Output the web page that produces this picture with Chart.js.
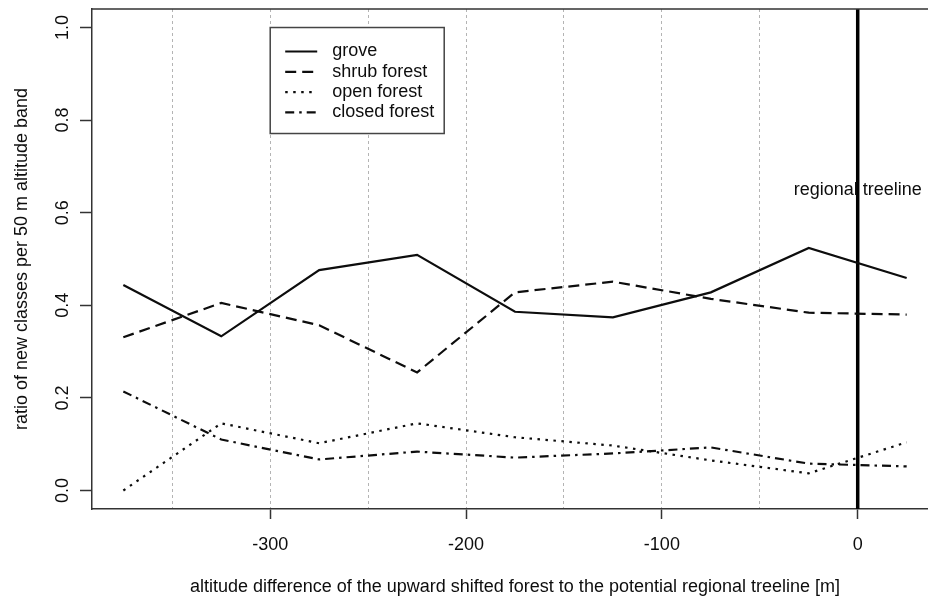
<!DOCTYPE html>
<html><head><meta charset="utf-8">
<script src="https://cdn.jsdelivr.net/npm/chart.js@4/dist/chart.umd.min.js"></script>
<style>html,body{margin:0;padding:0;background:#fff;overflow:hidden;width:928px;height:598px}#wrap{width:940px;height:598px}</style>
</head><body><div id="wrap"><canvas id="c" width="940" height="598"></canvas></div>
<script>
// ---- data ----
const altitudes    = [-375, -325, -275, -225, -175, -125, -75, -25, 25];
const grove        = [0.444, 0.333, 0.476, 0.509, 0.386, 0.374, 0.428, 0.524, 0.459];
const shrubForest  = [0.331, 0.405, 0.357, 0.255, 0.428, 0.451, 0.414, 0.384, 0.380];
const openForest   = [0.000, 0.145, 0.102, 0.145, 0.115, 0.097, 0.065, 0.037, 0.104];
const closedForest = [0.214, 0.110, 0.067, 0.084, 0.071, 0.080, 0.093, 0.058, 0.052];
const seriesNames  = ['grove', 'shrub forest', 'open forest', 'closed forest'];
const xTickLabels  = [-300, -200, -100, 0];
const yTickLabels  = ['0.0', '0.2', '0.4', '0.6', '0.8', '1.0'];
const treelineX    = 0;
const treelineLabel = 'regional treeline';
const xTitle = 'altitude difference of the upward shifted forest to the potential regional treeline [m]';
const yTitle = 'ratio of new classes per 50 m altitude band';

const FONT = '"Liberation Sans", Arial, Helvetica, sans-serif';
const INK = '#0d0d0d';
const AXIS = '#333';

const toPts = arr => altitudes.map((x, i) => ({x: x, y: arr[i]}));
const styles = [
  {dash: []},
  {dash: [11, 6]},
  {dash: [2.5, 5.5]},
  {dash: [9, 5, 2.5, 5]}
];
const seriesData = [grove, shrubForest, openForest, closedForest];

const datasets = seriesData.map((arr, i) => ({
  label: seriesNames[i],
  data: toPts(arr),
  borderColor: INK,
  borderWidth: 2.2,
  borderDash: styles[i].dash,
  pointRadius: 0,
  tension: 0,
  fill: false
}));
datasets.push({
  label: '_treeline',
  data: [{x: treelineX, y: -0.04}, {x: treelineX, y: 1.04}],
  borderColor: '#000',
  borderWidth: 3.5,
  pointRadius: 0,
  fill: false
});

const framePlugin = {
  id: 'frame',
  afterDraw(chart) {
    const {ctx, chartArea: a, scales: {x, y}} = chart;
    ctx.save();
    // top and right frame lines
    ctx.strokeStyle = AXIS; ctx.lineWidth = 1.5; ctx.setLineDash([]);
    ctx.beginPath(); ctx.moveTo(a.left - 0.75, a.top); ctx.lineTo(a.right, a.top); ctx.lineTo(a.right, a.bottom); ctx.stroke();
    // treeline label
    ctx.fillStyle = INK;
    ctx.font = '18px ' + FONT;
    ctx.textAlign = 'center'; ctx.textBaseline = 'middle';
    ctx.fillText(treelineLabel, x.getPixelForValue(treelineX), y.getPixelForValue(0.65));
    // legend
    const lx = x.getPixelForValue(-300), ty = y.getPixelForValue(1.0);
    const bw = 174, bh = 106;
    ctx.fillStyle = '#fff';
    ctx.fillRect(lx, ty, bw, bh);
    ctx.strokeStyle = '#444'; ctx.lineWidth = 1.5;
    ctx.strokeRect(lx, ty, bw, bh);
    ctx.textAlign = 'left';
    chart.data.datasets.slice(0, 4).forEach((ds, i) => {
      const ry = ty + 24 + i * 20.3;
      ctx.strokeStyle = INK; ctx.lineWidth = 2.2; ctx.setLineDash(ds.borderDash || []);
      ctx.beginPath(); ctx.moveTo(lx + 15, ry); ctx.lineTo(lx + 47, ry); ctx.stroke();
      ctx.setLineDash([]);
      ctx.fillStyle = INK;
      ctx.fillText(ds.label, lx + 62, ry);
    });
    ctx.restore();
  }
};

new Chart(document.getElementById('c'), {
  type: 'line',
  data: {datasets: datasets},
  plugins: [framePlugin],
  options: {
    responsive: false,
    animation: false,
    devicePixelRatio: 1,
    layout: {padding: {top: 9, right: 2, left: 0, bottom: 0}},
    plugins: {legend: {display: false}, tooltip: {enabled: false}},
    scales: {
      x: {
        type: 'linear',
        min: -391, max: 41,
        afterFit(s) { s.height = 89; s.paddingLeft = 0; s.paddingRight = 0; },
        ticks: {
          stepSize: 50, includeBounds: false, autoSkip: false, maxRotation: 0,
          padding: 15, color: INK, font: {size: 18, family: FONT},
          callback: v => xTickLabels.includes(v) ? String(v) : ''
        },
        grid: {
          color: c => (c.tick && c.tick.value === treelineX) ? 'rgba(0,0,0,0)' : '#b4b4b4',
          lineWidth: 1,
          tickLength: 10,
          tickWidth: 1.5,
          tickColor: c => (c.tick && xTickLabels.includes(c.tick.value)) ? AXIS : 'rgba(0,0,0,0)'
        },
        border: {display: true, color: AXIS, width: 1.5, dash: c => c.type === 'tick' ? [3, 3] : []},
        title: {display: true, text: xTitle, color: INK, font: {size: 18, family: FONT}, padding: {top: 0, bottom: 0}}
      },
      y: {
        type: 'linear',
        min: -0.04, max: 1.04,
        afterFit(s) { s.width = 92; s.paddingTop = 0; s.paddingBottom = 0; },
        ticks: {
          stepSize: 0.2, includeBounds: false, minRotation: 90, maxRotation: 90,
          crossAlign: 'center', padding: 4, color: INK, font: {size: 18, family: FONT},
          callback: v => { const s = v.toFixed(1); return yTickLabels.includes(s) ? s : ''; }
        },
        grid: {drawOnChartArea: false, tickLength: 12, tickWidth: 1.5, tickColor: AXIS},
        border: {display: true, color: AXIS, width: 1.5},
        title: {display: true, text: yTitle, color: INK, font: {size: 18, family: FONT}, padding: {top: 11, bottom: 0}}
      }
    }
  }
});
</script></body></html>
